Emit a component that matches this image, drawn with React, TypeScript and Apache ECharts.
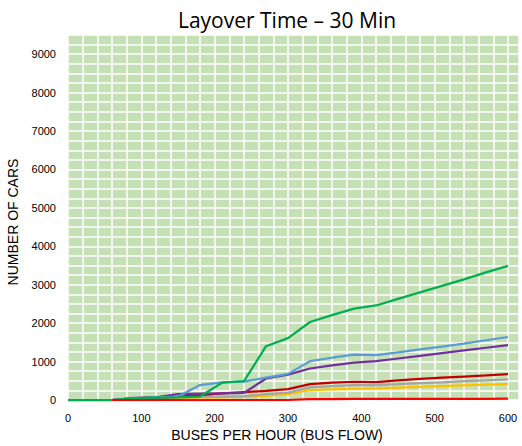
import React, { useEffect, useRef } from "react";
import * as echarts from "echarts";

const titleText = "Layover Time – 30 Min";
const xAxisTitle = "BUSES PER HOUR (BUS FLOW)";
const yAxisTitle = "NUMBER OF CARS";

const busFlow = [0, 30, 60, 90, 120, 150, 180, 210, 240, 270, 300, 330, 360, 390, 420, 450, 480, 510, 540, 570, 600];

const greenCars = [0, 0, 0, 40, 60, 70, 90, 450, 490, 1400, 1610, 2030, 2210, 2380, 2460, 2630, 2800, 2970, 3140, 3320, 3490];
const blueCars = [0, 0, 0, 50, 70, 90, 390, 460, 480, 580, 680, 1010, 1100, 1180, 1165, 1240, 1320, 1390, 1470, 1555, 1640];
const purpleCars = [0, 0, 0, 50, 70, 150, 165, 175, 185, 560, 660, 820, 900, 970, 1010, 1080, 1150, 1220, 1290, 1360, 1430];
const darkRedCars = [0, 0, 0, 40, 60, 80, 130, 170, 205, 240, 285, 415, 450, 475, 465, 510, 550, 580, 610, 640, 675];
const grayCars = [0, 0, 0, 60, 70, 75, 80, 90, 100, 150, 190, 330, 360, 385, 390, 410, 440, 460, 490, 510, 535];
const goldCars = [0, 0, 0, 30, 40, 50, 60, 70, 80, 110, 150, 260, 275, 290, 300, 320, 340, 360, 380, 400, 415];
const redCars = [null, null, 0, 0, 0, 0, 0, 0, 0, 0, 0, 25, 25, 28, 28, 30, 30, 30, 32, 32, 33];

const seriesDefs = [
  { name: "Gold", color: "#FFC000", values: goldCars },
  { name: "Gray", color: "#A5A5A5", values: grayCars },
  { name: "Dark Red", color: "#C00000", values: darkRedCars },
  { name: "Purple", color: "#7030A0", values: purpleCars },
  { name: "Blue", color: "#5B9BD5", values: blueCars },
  { name: "Green", color: "#00B050", values: greenCars },
  { name: "Red", color: "#FF0000", values: redCars },
];

export default function App() {
  const ref = useRef<HTMLDivElement>(null);
  useEffect(() => {
    if (!ref.current) return;
    const chart = echarts.init(ref.current, null, { renderer: "svg" });
    const font = "'Liberation Sans', Arial, sans-serif";
    chart.setOption({
      animation: false,
      backgroundColor: "#ffffff",
      grid: {
        left: 68,
        right: 0,
        top: 35,
        bottom: 46,
        show: true,
        backgroundColor: "#C5E0B4",
        borderWidth: 0,
      },
      graphic: [
        {
          type: "text",
          x: 287,
          y: 20,
          style: {
            text: titleText,
            font: "21px 'Open Sans', sans-serif",
            fill: "#000",
            textAlign: "center",
            textVerticalAlign: "middle",
          },
        },
        {
          type: "text",
          x: 277,
          y: 435,
          style: {
            text: xAxisTitle,
            font: "14px " + font,
            fill: "#000",
            textAlign: "center",
            textVerticalAlign: "middle",
          },
        },
        {
          type: "text",
          x: 13,
          y: 222,
          rotation: Math.PI / 2,
          style: {
            text: yAxisTitle,
            font: "14px " + font,
            fill: "#000",
            textAlign: "center",
            textVerticalAlign: "middle",
          },
        },
      ],
      xAxis: {
        type: "value",
        min: 0,
        max: 615,
        interval: 20,
        axisLine: { show: false },
        axisTick: { show: false },
        splitLine: { show: true, lineStyle: { color: "#ffffff", width: 1.5 } },
        axisLabel: {
          margin: 12,
          fontSize: 11,
          fontFamily: font,
          color: "#000",
          formatter: (v: number) => (v % 100 === 0 ? String(v) : ""),
        },
      },
      yAxis: {
        type: "value",
        min: 0,
        max: 9500,
        interval: 250,
        axisLine: { show: false },
        axisTick: { show: false },
        splitLine: { show: true, lineStyle: { color: "#ffffff", width: 1.5 } },
        axisLabel: {
          margin: 12,
          fontSize: 11,
          fontFamily: font,
          color: "#000",
          formatter: (v: number) => (v % 1000 === 0 ? String(v) : ""),
        },
      },
      series: seriesDefs.map((s) => ({
        name: s.name,
        type: "line",
        showSymbol: false,
        symbol: "none",
        lineStyle: { color: s.color, width: 2.25 },
        itemStyle: { color: s.color },
        data: busFlow
          .map((x, i) => [x, s.values[i]])
          .filter((p) => p[1] !== null),
      })),
    });
    return () => chart.dispose();
  }, []);
  return (
    <div
      ref={ref}
      style={{ position: "fixed", left: 0, top: 0, width: 522, height: 446 }}
    />
  );
}
